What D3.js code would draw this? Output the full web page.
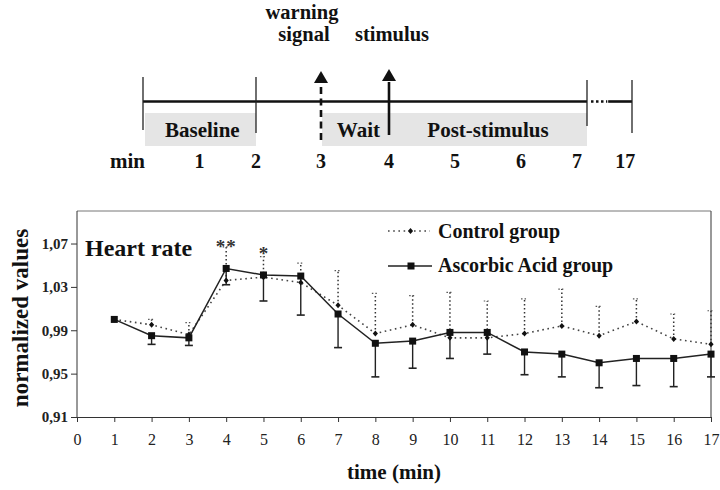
<!DOCTYPE html>
<html><head><meta charset="utf-8">
<script src="https://cdn.jsdelivr.net/npm/d3@7/dist/d3.min.js"></script>
<style>body{margin:0;background:#fff}svg{display:block}</style></head>
<body><svg id="c" width="720" height="490"></svg>
<script>
// ---------- data ----------
const minutes = [1,2,3,4,5,6,7,8,9,10,11,12,13,14,15,16,17];
const ascorbic    = [1.000,0.985,0.983,1.047,1.041,1.040,1.005,0.978,0.980,0.988,0.988,0.970,0.968,0.960,0.964,0.964,0.968];
const ascorbicLow = [1.000,0.977,0.976,1.032,1.017,1.004,0.974,0.947,0.955,0.964,0.968,0.949,0.947,0.937,0.939,0.938,0.947];
const control     = [1.000,0.995,0.986,1.036,1.039,1.034,1.013,0.987,0.995,0.983,0.983,0.987,0.994,0.985,0.998,0.982,0.977];
const controlHigh = [1.000,1.000,0.997,1.067,1.058,1.052,1.045,1.024,1.022,1.025,1.017,1.019,1.028,1.012,1.019,1.005,1.008];
const yTicks = [0.91,0.95,0.99,1.03,1.07];
const xTicks = [0,1,2,3,4,5,6,7,8,9,10,11,12,13,14,15,16,17];
const significance = [{min:4, label:"**"},{min:5, label:"*"}];
const seriesNames = ["Control group","Ascorbic Acid group"];
// timeline (protocol) data
const timelineStops = [0,2,3,4,7,8];           // 8 = "17" after the break
const timelineLabels = [{t:1,l:"1"},{t:2,l:"2"},{t:3,l:"3"},{t:4,l:"4"},{t:5,l:"5"},{t:6,l:"6"},{t:6.85,l:"7"},{t:7.85,l:"17"}];
const phases = [{from:0,to:2,label:"Baseline"},{from:3,to:7,label:null}];
const phaseTexts = [{t:1.05,label:"Baseline"},{t:3.55,label:"Wait"},{t:5.5,label:"Post-stimulus"}];
const events = [{t:3,label:["warning","signal"],dashed:true},{t:4,label:["stimulus"],dashed:false}];

const FONT = '"Liberation Serif","Times New Roman","DejaVu Serif",serif';
const svg = d3.select("#c");

// ---------- protocol timeline ----------
const tx = d3.scaleLinear().domain(timelineStops).range([143,256,321,389,587,632]);
const tl = svg.append("g");
const lineY = 101.5;
tl.selectAll("rect.phase").data(phases).join("rect")
  .attr("x", d => tx(d.from)+ (d.from===0?2:1)).attr("y",113)
  .attr("width", d => tx(d.to)-tx(d.from)-(d.from===0?2:1)).attr("height",33)
  .attr("fill","#e5e5e5");
tl.append("line").attr("x1",tx(0)).attr("x2",tx(7)).attr("y1",lineY).attr("y2",lineY)
  .attr("stroke","#111").attr("stroke-width",2.6);
tl.append("line").attr("x1",tx(7)+4).attr("x2",tx(7.45)).attr("y1",lineY).attr("y2",lineY)
  .attr("stroke","#111").attr("stroke-width",2.6).attr("stroke-dasharray","2.5,2.5");
tl.append("line").attr("x1",tx(7.47)).attr("x2",tx(8)).attr("y1",lineY).attr("y2",lineY)
  .attr("stroke","#111").attr("stroke-width",2.6);
[[0,77,130],[2,77,133],[7,80,126],[8,80,133]].forEach(([t,a,b]) =>
  tl.append("line").attr("x1",tx(t)).attr("x2",tx(t)).attr("y1",a).attr("y2",b)
    .attr("stroke","#222").attr("stroke-width",1.3));
events.forEach(e => {
  const X = tx(e.t);
  tl.append("line").attr("x1",X).attr("x2",X).attr("y1",e.dashed?140:135).attr("y2",82)
    .attr("stroke","#111").attr("stroke-width",2.6)
    .attr("stroke-dasharray", e.dashed ? "7,4.5" : null);
  const tip = e.dashed ? 71 : 69;
  tl.append("path").attr("d",`M${X},${tip}L${X-7},${tip+12}L${X+7},${tip+12}Z`).attr("fill","#111");
  e.label.forEach((s,i) => {
    const n = e.label.length;
    tl.append("text").attr("x", X + (e.dashed ? -19 : 3) + (e.dashed && i===1 ? 2 : 0))
      .attr("y", 41 - (n-1-i)*22).attr("text-anchor","middle")
      .attr("font-family",FONT).attr("font-weight","bold").attr("font-size",20.5).attr("fill","#111").text(s);
  });
});
tl.selectAll("text.ph").data(phaseTexts).join("text")
  .attr("x", d => tx(d.t)).attr("y",137).attr("text-anchor","middle")
  .attr("font-family",FONT).attr("font-weight","bold").attr("font-size",21).attr("fill","#111")
  .text(d => d.label);
tl.append("text").attr("x",145).attr("y",168).attr("text-anchor","end")
  .attr("font-family",FONT).attr("font-weight","bold").attr("font-size",21).attr("fill","#111").text("min");
tl.selectAll("text.ml").data(timelineLabels).join("text")
  .attr("x", d => tx(d.t)).attr("y",168).attr("text-anchor","middle")
  .attr("font-family",FONT).attr("font-weight","bold").attr("font-size",20).attr("fill","#111")
  .text(d => d.l);

// ---------- chart ----------
const x = d3.scaleLinear().domain([0,17]).range([77,711]);
const y = d3.scaleLinear().domain([0.91,1.10]).range([417,211]);
const g = svg.append("g");

// frame
g.append("line").attr("x1",x(0)).attr("x2",x(17)).attr("y1",y(1.10)).attr("y2",y(1.10)).attr("stroke","#777").attr("stroke-width",1);
g.append("line").attr("x1",x(17)).attr("x2",x(17)).attr("y1",y(1.10)).attr("y2",y(0.91)).attr("stroke","#555").attr("stroke-width",1.2);

const ya = g.append("g").attr("transform",`translate(${x(0)},0)`)
  .call(d3.axisLeft(y).tickValues(yTicks).tickSize(6).tickSizeOuter(0)
    .tickFormat(v => d3.format(".2f")(v).replace(".",",")));
ya.select(".domain").attr("d",`M0,${y(1.10)}V${y(0.91)}`).attr("stroke","#333");
ya.selectAll(".tick line").attr("stroke","#333");
ya.selectAll("text").attr("font-family",FONT).attr("font-weight","bold").attr("font-size",15).attr("fill","#222").attr("x",-9);

const xa = g.append("g").attr("transform",`translate(0,${y(0.91)})`)
  .call(d3.axisBottom(x).tickValues(xTicks).tickSize(5).tickSizeOuter(0).tickFormat(d3.format("d")));
xa.select(".domain").attr("stroke","#333");
xa.selectAll(".tick line").attr("stroke","#333");
xa.selectAll("text").attr("font-family",FONT).attr("font-size",16).attr("fill","#222").attr("dy","1.25em");

// axis titles
svg.append("text").attr("transform",`translate(28,${(y(0.91)+y(1.10))/2+4}) rotate(-90)`)
  .attr("text-anchor","middle").attr("font-family",FONT).attr("font-weight","bold").attr("font-size",23).attr("fill","#111")
  .text("normalized values");
svg.append("text").attr("x",(x(0)+x(17))/2).attr("y",479).attr("text-anchor","middle")
  .attr("font-family",FONT).attr("font-weight","bold").attr("font-size",21).attr("fill","#111").text("time (min)");

svg.append("text").attr("x",85).attr("y",256).attr("font-family",FONT).attr("font-weight","bold")
  .attr("font-size",24).attr("fill","#111").text("Heart rate");

const idx = minutes.map((m,i) => i);

// control error bars (upward, dotted)
idx.filter(i => controlHigh[i] > control[i] + 0.002).forEach(i => {
  const X = x(minutes[i]);
  g.append("line").attr("x1",X).attr("x2",X).attr("y1",y(control[i])).attr("y2",y(controlHigh[i]))
    .attr("stroke","#333").attr("stroke-width",1.5).attr("stroke-dasharray","1.5,2.5");
  g.append("line").attr("x1",X-3.5).attr("x2",X+3.5).attr("y1",y(controlHigh[i])).attr("y2",y(controlHigh[i]))
    .attr("stroke","#555").attr("stroke-width",1.2).attr("stroke-dasharray","1.5,2");
});
// ascorbic error bars (downward, solid)
idx.filter(i => ascorbicLow[i] < ascorbic[i] - 0.002).forEach(i => {
  const X = x(minutes[i]);
  g.append("line").attr("x1",X).attr("x2",X).attr("y1",y(ascorbic[i])).attr("y2",y(ascorbicLow[i]))
    .attr("stroke","#222").attr("stroke-width",1.4);
  g.append("line").attr("x1",X-4).attr("x2",X+4).attr("y1",y(ascorbicLow[i])).attr("y2",y(ascorbicLow[i]))
    .attr("stroke","#222").attr("stroke-width",1.6);
});

// control line
const line = d3.line().x(d => x(d[0])).y(d => y(d[1]));
g.append("path").datum(minutes.map((m,i)=>[m,control[i]])).attr("d",line)
  .attr("fill","none").attr("stroke","#444").attr("stroke-width",1.6).attr("stroke-dasharray","1.6,3.6");
g.selectAll("path.dia").data(idx).join("path")
  .attr("d", i => { const X=x(minutes[i]),Y=y(control[i]); return `M${X},${Y-3}L${X+2.6},${Y}L${X},${Y+3}L${X-2.6},${Y}Z`; })
  .attr("fill","#111");
// ascorbic line
g.append("path").datum(minutes.map((m,i)=>[m,ascorbic[i]])).attr("d",line)
  .attr("fill","none").attr("stroke","#222").attr("stroke-width",1.5);
g.selectAll("rect.sq").data(idx).join("rect")
  .attr("x", i => x(minutes[i])-3.5).attr("y", i => y(ascorbic[i])-3.5)
  .attr("width",7).attr("height",7).attr("fill","#111");

// significance
g.selectAll("text.sig").data(significance).join("text")
  .attr("x", d => x(d.min)).attr("y", (d,i) => i===0 ? 253 : 260).attr("text-anchor","middle")
  .attr("font-family",FONT).attr("font-weight","bold").attr("font-size",19).attr("fill","#333")
  .attr("letter-spacing", d => d.label.length>1 ? 1 : 0).text(d => d.label);

// legend
const lg = svg.append("g");
lg.append("line").attr("x1",388).attr("x2",430).attr("y1",231).attr("y2",231)
  .attr("stroke","#444").attr("stroke-width",1.5).attr("stroke-dasharray","1.6,3.6");
lg.append("path").attr("d","M410.5,228L413.1,231L410.5,234L407.9,231Z").attr("fill","#111");
lg.append("line").attr("x1",388).attr("x2",432).attr("y1",266).attr("y2",266)
  .attr("stroke","#222").attr("stroke-width",1.5);
lg.append("rect").attr("x",407.5).attr("y",262.5).attr("width",7).attr("height",7).attr("fill","#111");
lg.selectAll("text").data(seriesNames).join("text")
  .attr("x",438).attr("y",(d,i) => 238 + i*34)
  .attr("font-family",FONT).attr("font-weight","bold").attr("font-size",20).attr("fill","#111").text(d => d);
</script></body></html>
